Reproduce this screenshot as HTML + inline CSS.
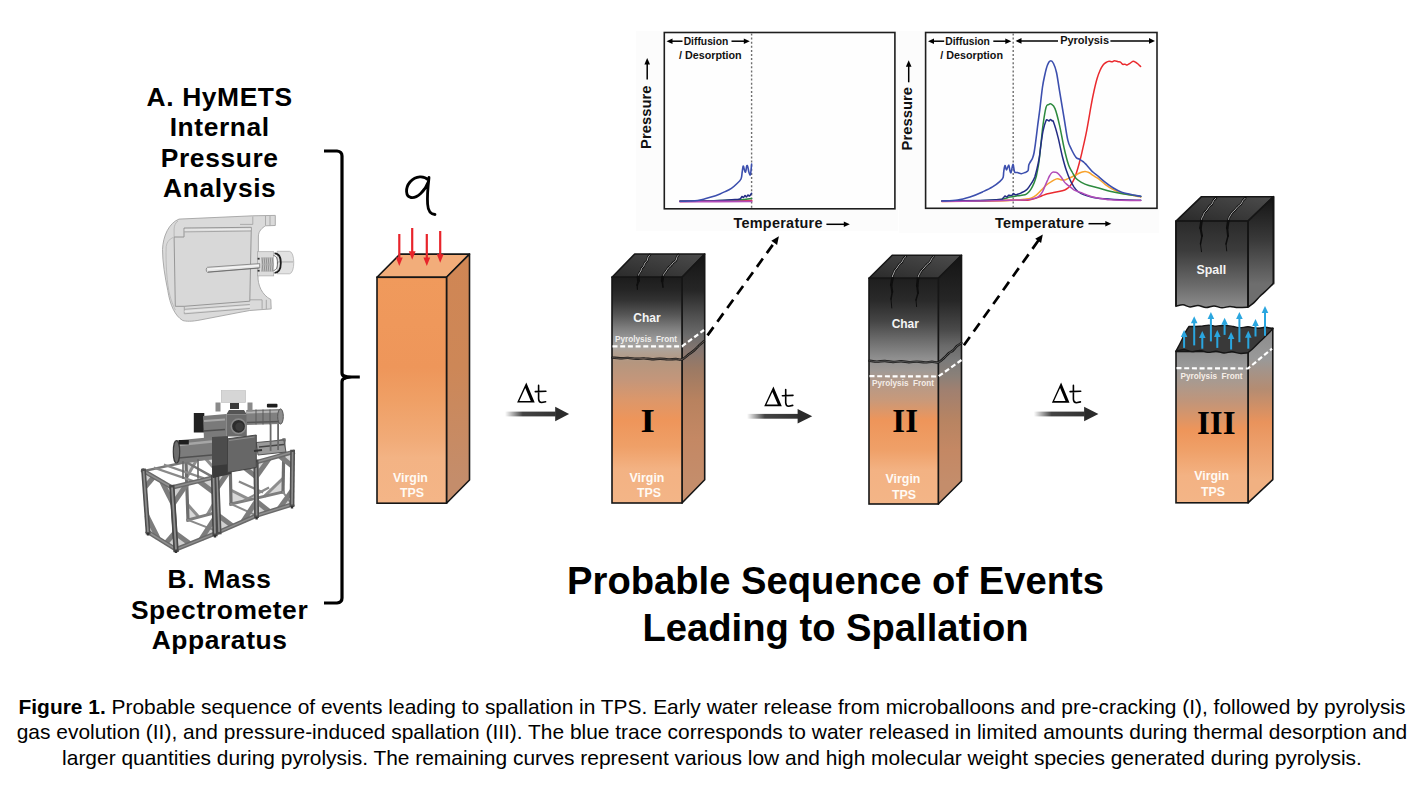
<!DOCTYPE html>
<html><head><meta charset="utf-8"><style>
html,body{margin:0;padding:0;background:#fff;}
body{width:1424px;height:799px;overflow:hidden;position:relative;font-family:"Liberation Sans",sans-serif;}
svg{position:absolute;left:0;top:0;}
.cap{position:absolute;left:0;top:694.2px;width:1424px;text-align:center;font-size:20.93px;line-height:25.3px;color:#000;}
</style></head><body>
<svg width="1424" height="799" viewBox="0 0 1424 799">

<defs>
 <linearGradient id="gV0" x1="0" y1="277" x2="0" y2="503" gradientUnits="userSpaceOnUse">
  <stop offset="0" stop-color="#f09a5c"/><stop offset="0.4" stop-color="#ee965a"/>
  <stop offset="0.55" stop-color="#efa066"/><stop offset="0.72" stop-color="#f1ab78"/>
  <stop offset="0.8" stop-color="#f3b384"/><stop offset="1" stop-color="#f4b587"/>
 </linearGradient>
 <linearGradient id="gS0" x1="0" y1="254" x2="0" y2="480" gradientUnits="userSpaceOnUse">
  <stop offset="0" stop-color="#d08654"/><stop offset="0.5" stop-color="#cd8757"/><stop offset="1" stop-color="#c48d6b"/>
 </linearGradient>
 <linearGradient id="gF1" x1="0" y1="277" x2="0" y2="503" gradientUnits="userSpaceOnUse">
  <stop offset="0" stop-color="#1c1c1c"/><stop offset="0.0575" stop-color="#252525"/>
  <stop offset="0.102" stop-color="#323232"/><stop offset="0.168" stop-color="#575757"/>
  <stop offset="0.226" stop-color="#7e7e7e"/><stop offset="0.279" stop-color="#9c9c9c"/>
  <stop offset="0.31" stop-color="#aaa6a2"/><stop offset="0.332" stop-color="#b0a194"/>
  <stop offset="0.376" stop-color="#b4967f"/><stop offset="0.456" stop-color="#c4967a"/>
  <stop offset="0.544" stop-color="#dc976a"/><stop offset="0.633" stop-color="#ee955a"/>
  <stop offset="0.752" stop-color="#efa068"/><stop offset="0.85" stop-color="#f3b283"/><stop offset="1" stop-color="#f3b587"/>
 </linearGradient>
 <linearGradient id="gSd1" x1="0" y1="254" x2="0" y2="480" gradientUnits="userSpaceOnUse">
  <stop offset="0" stop-color="#141414"/><stop offset="0.16" stop-color="#262626"/>
  <stop offset="0.27" stop-color="#4e4e4e"/><stop offset="0.36" stop-color="#6c6c6c"/>
  <stop offset="0.425" stop-color="#857670"/><stop offset="0.51" stop-color="#9c7a64"/>
  <stop offset="0.646" stop-color="#b8825f"/><stop offset="0.82" stop-color="#c48864"/><stop offset="1" stop-color="#c48d6b"/>
 </linearGradient>
 <linearGradient id="gTop" x1="0" y1="1" x2="1" y2="0">
  <stop offset="0" stop-color="#2a2a2a"/><stop offset="1" stop-color="#4c4c4c"/>
 </linearGradient>
 <linearGradient id="gF2" x1="0" y1="278" x2="0" y2="504" gradientUnits="userSpaceOnUse">
  <stop offset="0" stop-color="#1e1e1e"/><stop offset="0.1" stop-color="#2a2a2a"/>
  <stop offset="0.19" stop-color="#454545"/><stop offset="0.27" stop-color="#6a6a6a"/>
  <stop offset="0.355" stop-color="#8f8f8f"/><stop offset="0.41" stop-color="#a09a96"/>
  <stop offset="0.45" stop-color="#b09a8c"/><stop offset="0.54" stop-color="#c8997a"/>
  <stop offset="0.63" stop-color="#ee955a"/><stop offset="0.76" stop-color="#efa068"/>
  <stop offset="0.85" stop-color="#f3b283"/><stop offset="1" stop-color="#f3b587"/>
 </linearGradient>
 <linearGradient id="gSd2" x1="0" y1="255" x2="0" y2="482" gradientUnits="userSpaceOnUse">
  <stop offset="0" stop-color="#141414"/><stop offset="0.2" stop-color="#262626"/>
  <stop offset="0.33" stop-color="#4a4a4a"/><stop offset="0.4" stop-color="#6a6a6a"/>
  <stop offset="0.46" stop-color="#7a7a7a"/><stop offset="0.53" stop-color="#8a8078"/>
  <stop offset="0.595" stop-color="#a08070"/><stop offset="0.73" stop-color="#b88462"/>
  <stop offset="0.86" stop-color="#c48864"/><stop offset="1" stop-color="#c48d6b"/>
 </linearGradient>
 <linearGradient id="gSp" x1="0" y1="221" x2="0" y2="306" gradientUnits="userSpaceOnUse">
  <stop offset="0" stop-color="#2a2a2a"/><stop offset="0.35" stop-color="#3c3c3c"/>
  <stop offset="0.75" stop-color="#6a6a6a"/><stop offset="1" stop-color="#8a8a8a"/>
 </linearGradient>
 <linearGradient id="gSpS" x1="0" y1="197" x2="0" y2="284" gradientUnits="userSpaceOnUse">
  <stop offset="0" stop-color="#141414"/><stop offset="0.5" stop-color="#3a3a3a"/><stop offset="1" stop-color="#6e6e6e"/>
 </linearGradient>
 <linearGradient id="gF3" x1="0" y1="351" x2="0" y2="503" gradientUnits="userSpaceOnUse">
  <stop offset="0" stop-color="#8c8c8c"/><stop offset="0.1" stop-color="#9a9a9a"/>
  <stop offset="0.2" stop-color="#a89a90"/><stop offset="0.33" stop-color="#c0957a"/>
  <stop offset="0.52" stop-color="#ee955a"/><stop offset="0.65" stop-color="#efa068"/>
  <stop offset="0.82" stop-color="#f3b283"/><stop offset="1" stop-color="#f3b587"/>
 </linearGradient>
 <linearGradient id="gS3" x1="0" y1="328" x2="0" y2="480" gradientUnits="userSpaceOnUse">
  <stop offset="0" stop-color="#8a8a8a"/><stop offset="0.2" stop-color="#999"/>
  <stop offset="0.4" stop-color="#b48c72"/><stop offset="0.62" stop-color="#e9935c"/>
  <stop offset="1" stop-color="#f1b182"/>
 </linearGradient>
 <linearGradient id="gArr" x1="0" y1="0" x2="1" y2="0">
  <stop offset="0" stop-color="#3a3a3a" stop-opacity="0"/><stop offset="0.35" stop-color="#3a3a3a" stop-opacity="0.95"/>
  <stop offset="1" stop-color="#333"/>
 </linearGradient>
</defs>
<text x="219.7" y="105.8" font-family="'Liberation Sans', sans-serif" font-size="26.4" font-weight="bold" fill="#000" text-anchor="middle" letter-spacing="0.6">A. HyMETS</text>
<text x="219.7" y="135.9" font-family="'Liberation Sans', sans-serif" font-size="26.4" font-weight="bold" fill="#000" text-anchor="middle" letter-spacing="0.6">Internal</text>
<text x="219.7" y="166.8" font-family="'Liberation Sans', sans-serif" font-size="26.4" font-weight="bold" fill="#000" text-anchor="middle" letter-spacing="0.6">Pressure</text>
<text x="219.7" y="196.9" font-family="'Liberation Sans', sans-serif" font-size="26.4" font-weight="bold" fill="#000" text-anchor="middle" letter-spacing="0.6">Analysis</text>
<text x="219.6" y="588" font-family="'Liberation Sans', sans-serif" font-size="26.4" font-weight="bold" fill="#000" text-anchor="middle" letter-spacing="0.6">B. Mass</text>
<text x="219.6" y="618.7" font-family="'Liberation Sans', sans-serif" font-size="26.4" font-weight="bold" fill="#000" text-anchor="middle" letter-spacing="0.6">Spectrometer</text>
<text x="219.6" y="648.7" font-family="'Liberation Sans', sans-serif" font-size="26.4" font-weight="bold" fill="#000" text-anchor="middle" letter-spacing="0.6">Apparatus</text>
<path d="M324,151 L337,151 Q342,151.5 342,156 L342,373 Q342,376.2 345.5,376.8 M345.5,378 Q342,378.6 342,381.8 L342,598 Q342,602.5 337,603 L324,603" fill="none" stroke="#000" stroke-width="3.2"/>
<path d="M344,374.2 Q347,375.4 352,375.5 L359.8,375.5 L359.8,378.6 L352,378.6 Q347,378.7 344,380 Z" fill="#000"/>
<text x="835.5" y="593.6" font-family="'Liberation Sans', sans-serif" font-size="38.2" font-weight="bold" fill="#000" text-anchor="middle" >Probable Sequence of Events</text>
<text x="835.5" y="640.7" font-family="'Liberation Sans', sans-serif" font-size="38.2" font-weight="bold" fill="#000" text-anchor="middle" >Leading to Spallation</text>
<polygon points="377,277.3 446.5,277.3 469.5,254.10000000000002 400,254.10000000000002" fill="#f2ad7a" stroke="#161616" stroke-width="1.6" stroke-linejoin="round"/><polygon points="446.5,277.3 469.5,254.10000000000002 469.5,480.0 446.5,503.2" fill="url(#gS0)" stroke="#161616" stroke-width="1.6" stroke-linejoin="round"/><rect x="377" y="277.3" width="69.5" height="225.89999999999998" fill="url(#gV0)" stroke="#161616" stroke-width="1.6"/>
<text x="410.5" y="481.5" font-family="'Liberation Sans', sans-serif" font-size="12.4" font-weight="bold" fill="#fffaf4" text-anchor="middle" >Virgin</text>
<text x="412" y="497" font-family="'Liberation Sans', sans-serif" font-size="12.4" font-weight="bold" fill="#fffaf4" text-anchor="middle" >TPS</text>
<polygon points="612,277.2 682,277.2 704.7,254.0 634.7,254.0" fill="url(#gTop)" stroke="#161616" stroke-width="1.6" stroke-linejoin="round"/><polygon points="682,277.2 704.7,254.0 704.7,479.8 682,503" fill="url(#gSd1)" stroke="#161616" stroke-width="1.6" stroke-linejoin="round"/><rect x="612" y="277.2" width="70" height="225.8" fill="url(#gF1)" stroke="#161616" stroke-width="1.6"/>
<text x="647" y="321.9" font-family="'Liberation Sans', sans-serif" font-size="12" font-weight="bold" fill="#f4f4f4" text-anchor="middle" >Char</text>
<text x="646" y="341.8" font-family="'Liberation Sans', sans-serif" font-size="8.2" font-weight="bold" fill="#f0eeec" text-anchor="middle" >Pyrolysis&#160; Front</text>
<text x="647" y="481.5" font-family="'Liberation Sans', sans-serif" font-size="12.4" font-weight="bold" fill="#fffaf4" text-anchor="middle" >Virgin</text>
<text x="649" y="497" font-family="'Liberation Sans', sans-serif" font-size="12.4" font-weight="bold" fill="#fffaf4" text-anchor="middle" >TPS</text>
<text x="647.6" y="431.9" font-family="'Liberation Serif', serif" font-size="33" font-weight="bold" fill="#000" text-anchor="middle" transform="translate(647.6 0) scale(1.12 1) translate(-647.6 0)">I</text>
<polygon points="869,278.3 938.3,278.3 961.5,255.3 892.2,255.3" fill="url(#gTop)" stroke="#161616" stroke-width="1.6" stroke-linejoin="round"/><polygon points="938.3,278.3 961.5,255.3 961.5,481 938.3,504" fill="url(#gSd2)" stroke="#161616" stroke-width="1.6" stroke-linejoin="round"/><rect x="869" y="278.3" width="69.29999999999995" height="225.7" fill="url(#gF2)" stroke="#161616" stroke-width="1.6"/>
<text x="905.3" y="327.6" font-family="'Liberation Sans', sans-serif" font-size="12" font-weight="bold" fill="#f4f4f4" text-anchor="middle" >Char</text>
<text x="903" y="386.2" font-family="'Liberation Sans', sans-serif" font-size="8.2" font-weight="bold" fill="#f4ecE6" text-anchor="middle" >Pyrolysis&#160; Front</text>
<text x="903" y="483" font-family="'Liberation Sans', sans-serif" font-size="12.4" font-weight="bold" fill="#fffaf4" text-anchor="middle" >Virgin</text>
<text x="904" y="498.5" font-family="'Liberation Sans', sans-serif" font-size="12.4" font-weight="bold" fill="#fffaf4" text-anchor="middle" >TPS</text>
<text x="905.2" y="431.9" font-family="'Liberation Serif', serif" font-size="33" font-weight="bold" fill="#000" text-anchor="middle" >II</text>
<polygon points="1176,351.5 1248,351.5 1272.8,328.3 1200.8,328.3" fill="#3a3a3a" stroke="#161616" stroke-width="1.6" stroke-linejoin="round"/><polygon points="1248,351.5 1272.8,328.3 1272.8,479.6 1248,502.8" fill="url(#gS3)" stroke="#161616" stroke-width="1.6" stroke-linejoin="round"/><rect x="1176" y="351.5" width="72" height="151.3" fill="url(#gF3)" stroke="#161616" stroke-width="1.6"/>
<text x="1211.5" y="379.3" font-family="'Liberation Sans', sans-serif" font-size="8.2" font-weight="bold" fill="#f6eee8" text-anchor="middle" >Pyrolysis&#160; Front</text>
<text x="1211.7" y="479.6" font-family="'Liberation Sans', sans-serif" font-size="12.4" font-weight="bold" fill="#fffaf4" text-anchor="middle" >Virgin</text>
<text x="1213" y="496.3" font-family="'Liberation Sans', sans-serif" font-size="12.4" font-weight="bold" fill="#fffaf4" text-anchor="middle" >TPS</text>
<text x="1216.3" y="433.7" font-family="'Liberation Serif', serif" font-size="33" font-weight="bold" fill="#000" text-anchor="middle" >III</text>
<polygon points="1176,221.1 1248,221.1 1273.5,196.7 1201.5,196.7" fill="url(#gTop)" stroke="#161616" stroke-width="1.6" stroke-linejoin="round"/><polygon points="1248,221.1 1273.5,196.7 1273.5,284.1 1248,308.5" fill="url(#gSpS)" stroke="#161616" stroke-width="1.6" stroke-linejoin="round"/><rect x="1176" y="221.1" width="72" height="87.4" fill="url(#gSp)" stroke="#161616" stroke-width="1.6"/>
<text x="1211.3" y="273.7" font-family="'Liberation Sans', sans-serif" font-size="12.4" font-weight="bold" fill="#f4f4f4" text-anchor="middle" >Spall</text>
<path d="M612.5,346.3 L682,346.3 L704,330" fill="none" stroke="#fff" stroke-width="2.2" stroke-dasharray="5 2.7"/>
<path d="M612.5,357.6 C613.8,357.7 617.4,358.2 620.0,358.3 C622.6,358.4 625.3,357.8 628.0,357.9 C630.7,358.0 633.3,358.7 636.0,358.8 C638.7,358.9 641.3,358.3 644.0,358.4 C646.7,358.5 649.3,359.1 652.0,359.2 C654.7,359.2 657.3,358.7 660.0,358.7 C662.7,358.7 665.3,359.3 668.0,359.4 C670.7,359.4 673.7,359.0 676.0,359.0 C678.3,359.0 680.0,360.1 682.0,359.4 C684.0,358.7 686.0,356.5 688.0,355.0 C690.0,353.5 692.2,352.1 694.0,350.5 C695.8,348.9 697.3,347.1 699.0,345.5 C700.7,343.9 703.2,341.9 704.0,341.2" fill="none" stroke="#1a1a1a" stroke-width="2.4" stroke-linejoin="round" stroke-linecap="round"/><path d="M612.5,357.6 C613.8,357.7 617.4,358.2 620.0,358.3 C622.6,358.4 625.3,357.8 628.0,357.9 C630.7,358.0 633.3,358.7 636.0,358.8 C638.7,358.9 641.3,358.3 644.0,358.4 C646.7,358.5 649.3,359.1 652.0,359.2 C654.7,359.2 657.3,358.7 660.0,358.7 C662.7,358.7 665.3,359.3 668.0,359.4 C670.7,359.4 673.7,359.0 676.0,359.0 C678.3,359.0 680.0,360.1 682.0,359.4 C684.0,358.7 686.0,356.5 688.0,355.0 C690.0,353.5 692.2,352.1 694.0,350.5 C695.8,348.9 697.3,347.1 699.0,345.5 C700.7,343.9 703.2,341.9 704.0,341.2" fill="none" stroke="#7a6a60" stroke-width="0.72" stroke-linejoin="round"/>
<path d="M650.0,254.8 C649.7,255.2 648.5,256.4 648.0,257.4 C647.6,258.3 647.7,259.6 647.2,260.5 C646.7,261.4 645.5,262.1 644.9,263.0 C644.3,264.0 644.2,265.3 643.7,266.2 C643.2,267.1 642.2,267.5 641.7,268.3 C641.2,269.1 641.4,270.1 640.9,271.0 C640.4,271.9 639.4,272.8 639.0,273.8 C638.5,274.8 638.2,276.5 638.1,277.0" fill="none" stroke="#0e0e0e" stroke-width="2.3" stroke-linejoin="round" stroke-linecap="round"/><path d="M650.0,254.8 C649.7,255.2 648.5,256.4 648.0,257.4 C647.6,258.3 647.7,259.6 647.2,260.5 C646.7,261.4 645.5,262.1 644.9,263.0 C644.3,264.0 644.2,265.3 643.7,266.2 C643.2,267.1 642.2,267.5 641.7,268.3 C641.2,269.1 641.4,270.1 640.9,271.0 C640.4,271.9 639.4,272.8 639.0,273.8 C638.5,274.8 638.2,276.5 638.1,277.0" fill="none" stroke="#d4d4d4" stroke-width="0.8" stroke-linejoin="round"/>
<line x1="638.1" y1="277.0" x2="638.5" y2="281.0" stroke="#0e0e0e" stroke-width="2.80" stroke-linecap="round"/><line x1="638.5" y1="281.0" x2="637.2" y2="285.0" stroke="#0e0e0e" stroke-width="2.00" stroke-linecap="round"/><line x1="637.2" y1="285.0" x2="637.4" y2="289.3" stroke="#0e0e0e" stroke-width="1.20" stroke-linecap="round"/>
<path d="M678.5,254.8 C678.2,255.2 677.3,256.5 676.8,257.5 C676.4,258.4 676.6,259.6 676.0,260.5 C675.4,261.4 674.0,261.8 673.2,262.6 C672.4,263.4 671.9,264.5 671.1,265.4 C670.3,266.3 669.1,266.9 668.3,267.9 C667.5,268.8 666.9,270.0 666.2,271.0 C665.5,272.0 664.7,272.8 664.1,273.8 C663.5,274.8 662.9,276.5 662.7,277.0" fill="none" stroke="#0e0e0e" stroke-width="2.3" stroke-linejoin="round" stroke-linecap="round"/><path d="M678.5,254.8 C678.2,255.2 677.3,256.5 676.8,257.5 C676.4,258.4 676.6,259.6 676.0,260.5 C675.4,261.4 674.0,261.8 673.2,262.6 C672.4,263.4 671.9,264.5 671.1,265.4 C670.3,266.3 669.1,266.9 668.3,267.9 C667.5,268.8 666.9,270.0 666.2,271.0 C665.5,272.0 664.7,272.8 664.1,273.8 C663.5,274.8 662.9,276.5 662.7,277.0" fill="none" stroke="#d4d4d4" stroke-width="0.8" stroke-linejoin="round"/>
<line x1="662.7" y1="277.0" x2="662.2" y2="281.0" stroke="#0e0e0e" stroke-width="2.80" stroke-linecap="round"/><line x1="662.2" y1="281.0" x2="663.0" y2="287.2" stroke="#0e0e0e" stroke-width="1.60" stroke-linecap="round"/>
<path d="M869.5,376.2 L938.3,376.5 L961.5,360" fill="none" stroke="#fff" stroke-width="2.2" stroke-dasharray="5 2.7"/>
<path d="M869.5,360.8 C870.8,360.9 874.4,361.6 877.0,361.6 C879.6,361.6 882.3,360.9 885.0,361.0 C887.7,361.1 890.3,361.9 893.0,362.0 C895.7,362.1 898.3,361.3 901.0,361.3 C903.7,361.3 906.3,362.1 909.0,362.2 C911.7,362.2 914.3,361.6 917.0,361.6 C919.7,361.6 922.5,362.4 925.0,362.4 C927.5,362.4 929.8,361.8 932.0,361.8 C934.2,361.8 936.3,363.0 938.3,362.4 C940.3,361.8 942.2,359.6 944.0,358.0 C945.8,356.4 947.5,354.2 949.0,353.0 C950.5,351.8 951.7,351.7 953.0,350.5 C954.3,349.3 955.6,347.2 957.0,346.0 C958.4,344.8 960.8,343.5 961.5,343.0" fill="none" stroke="#1a1a1a" stroke-width="2.4" stroke-linejoin="round" stroke-linecap="round"/><path d="M869.5,360.8 C870.8,360.9 874.4,361.6 877.0,361.6 C879.6,361.6 882.3,360.9 885.0,361.0 C887.7,361.1 890.3,361.9 893.0,362.0 C895.7,362.1 898.3,361.3 901.0,361.3 C903.7,361.3 906.3,362.1 909.0,362.2 C911.7,362.2 914.3,361.6 917.0,361.6 C919.7,361.6 922.5,362.4 925.0,362.4 C927.5,362.4 929.8,361.8 932.0,361.8 C934.2,361.8 936.3,363.0 938.3,362.4 C940.3,361.8 942.2,359.6 944.0,358.0 C945.8,356.4 947.5,354.2 949.0,353.0 C950.5,351.8 951.7,351.7 953.0,350.5 C954.3,349.3 955.6,347.2 957.0,346.0 C958.4,344.8 960.8,343.5 961.5,343.0" fill="none" stroke="#6a6a6a" stroke-width="0.72" stroke-linejoin="round"/>
<path d="M906.0,256.3 C905.6,256.7 904.1,257.8 903.5,258.8 C902.8,259.7 902.7,261.0 902.0,262.0 C901.3,263.0 899.8,263.6 899.0,264.6 C898.2,265.6 897.7,267.0 897.0,268.0 C896.3,269.0 895.2,269.7 894.7,270.7 C894.1,271.7 893.9,273.1 893.5,274.0 C893.1,274.9 892.6,275.3 892.4,276.0 C892.3,276.7 892.5,277.9 892.5,278.3" fill="none" stroke="#0e0e0e" stroke-width="2.3" stroke-linejoin="round" stroke-linecap="round"/><path d="M906.0,256.3 C905.6,256.7 904.1,257.8 903.5,258.8 C902.8,259.7 902.7,261.0 902.0,262.0 C901.3,263.0 899.8,263.6 899.0,264.6 C898.2,265.6 897.7,267.0 897.0,268.0 C896.3,269.0 895.2,269.7 894.7,270.7 C894.1,271.7 893.9,273.1 893.5,274.0 C893.1,274.9 892.6,275.3 892.4,276.0 C892.3,276.7 892.5,277.9 892.5,278.3" fill="none" stroke="#d4d4d4" stroke-width="0.8" stroke-linejoin="round"/>
<line x1="892.5" y1="278.3" x2="891.2" y2="285.0" stroke="#0e0e0e" stroke-width="2.60" stroke-linecap="round"/><line x1="891.2" y1="285.0" x2="892.3" y2="292.0" stroke="#0e0e0e" stroke-width="2.05" stroke-linecap="round"/><line x1="892.3" y1="292.0" x2="891.0" y2="299.0" stroke="#0e0e0e" stroke-width="1.50" stroke-linecap="round"/><line x1="891.0" y1="299.0" x2="891.8" y2="308.0" stroke="#0e0e0e" stroke-width="0.95" stroke-linecap="round"/>
<path d="M933.8,256.3 C933.4,256.7 932.2,257.9 931.5,258.9 C930.9,259.8 930.8,261.0 930.0,262.0 C929.2,263.0 927.7,263.7 926.7,264.7 C925.7,265.7 924.9,267.0 924.0,268.0 C923.1,269.0 922.1,269.7 921.4,270.7 C920.6,271.7 920.0,273.1 919.5,274.0 C919.0,274.9 918.6,275.3 918.4,276.0 C918.1,276.7 918.1,277.9 918.0,278.3" fill="none" stroke="#0e0e0e" stroke-width="2.3" stroke-linejoin="round" stroke-linecap="round"/><path d="M933.8,256.3 C933.4,256.7 932.2,257.9 931.5,258.9 C930.9,259.8 930.8,261.0 930.0,262.0 C929.2,263.0 927.7,263.7 926.7,264.7 C925.7,265.7 924.9,267.0 924.0,268.0 C923.1,269.0 922.1,269.7 921.4,270.7 C920.6,271.7 920.0,273.1 919.5,274.0 C919.0,274.9 918.6,275.3 918.4,276.0 C918.1,276.7 918.1,277.9 918.0,278.3" fill="none" stroke="#d4d4d4" stroke-width="0.8" stroke-linejoin="round"/>
<line x1="918.0" y1="278.3" x2="917.2" y2="286.0" stroke="#0e0e0e" stroke-width="2.60" stroke-linecap="round"/><line x1="917.2" y1="286.0" x2="918.0" y2="293.0" stroke="#0e0e0e" stroke-width="2.05" stroke-linecap="round"/><line x1="918.0" y1="293.0" x2="916.0" y2="300.0" stroke="#0e0e0e" stroke-width="1.50" stroke-linecap="round"/><line x1="916.0" y1="300.0" x2="916.6" y2="306.6" stroke="#0e0e0e" stroke-width="0.95" stroke-linecap="round"/>
<path d="M1176.0,351.1 C1177.3,350.9 1181.3,349.5 1184.0,349.6 C1186.7,349.7 1189.3,351.5 1192.0,351.6 C1194.7,351.7 1197.3,350.3 1200.0,350.4 C1202.7,350.5 1205.3,352.2 1208.0,352.4 C1210.7,352.5 1213.3,351.2 1216.0,351.3 C1218.7,351.4 1221.3,352.9 1224.0,353.0 C1226.7,353.1 1229.3,351.7 1232.0,351.8 C1234.7,351.9 1237.3,353.2 1240.0,353.4 C1242.7,353.6 1246.7,352.9 1248.0,352.8 C1249.0,351.9 1252.0,349.4 1254.0,347.5 C1256.0,345.6 1258.0,343.4 1260.0,341.5 C1262.0,339.6 1263.9,337.9 1266.0,335.8 C1268.1,333.7 1271.7,330.0 1272.8,328.8 C1271.5,328.6 1267.5,327.4 1265.0,327.3 C1262.5,327.2 1260.4,328.5 1257.6,328.4 C1254.8,328.3 1250.9,326.9 1248.0,326.8 C1245.1,326.7 1242.5,327.9 1240.0,327.8 C1237.5,327.8 1235.7,326.9 1233.2,326.5 C1230.7,326.1 1227.9,325.4 1225.0,325.4 C1222.1,325.3 1218.7,326.2 1216.0,326.2 C1213.3,326.1 1211.5,325.1 1208.8,325.1 C1206.1,325.1 1203.3,326.1 1200.0,326.3 C1196.7,326.5 1190.8,326.5 1189.0,326.5 C1188.4,327.4 1186.6,330.0 1185.5,332.0 C1184.4,334.0 1183.5,336.4 1182.5,338.5 C1181.5,340.6 1180.6,342.4 1179.5,344.5 C1178.4,346.6 1176.6,350.0 1176.0,351.1 Z" fill="#393939" stroke="#151515" stroke-width="1.4" stroke-linejoin="round"/>
<path d="M1176.5,368.2 L1248,368.5 L1272,348.7" fill="none" stroke="#fff" stroke-width="2.2" stroke-dasharray="5 2.7"/>
<path d="M1174,308.5 L1176,306.2 C1177.2,306.0 1180.7,304.7 1183.0,304.8 C1185.3,304.9 1187.5,306.8 1190.0,306.9 C1192.5,307.0 1195.3,305.3 1198.0,305.4 C1200.7,305.5 1203.3,307.5 1206.0,307.6 C1208.7,307.7 1211.3,305.9 1214.0,305.9 C1216.7,305.9 1219.3,307.7 1222.0,307.8 C1224.7,307.9 1227.3,306.4 1230.0,306.4 C1232.7,306.4 1235.0,307.5 1238.0,307.6 C1241.0,307.7 1246.3,307.3 1248.0,307.2 C1249.0,306.4 1252.0,304.4 1254.0,302.6 C1256.0,300.8 1258.0,298.2 1260.0,296.2 C1262.0,294.2 1263.8,292.9 1266.0,290.8 C1268.2,288.7 1272.2,284.6 1273.5,283.4 L1275.5,286 L1275.5,312 L1174,312 Z" fill="#fff"/>
<path d="M1176.0,306.2 C1177.2,306.0 1180.7,304.7 1183.0,304.8 C1185.3,304.9 1187.5,306.8 1190.0,306.9 C1192.5,307.0 1195.3,305.3 1198.0,305.4 C1200.7,305.5 1203.3,307.5 1206.0,307.6 C1208.7,307.7 1211.3,305.9 1214.0,305.9 C1216.7,305.9 1219.3,307.7 1222.0,307.8 C1224.7,307.9 1227.3,306.4 1230.0,306.4 C1232.7,306.4 1235.0,307.5 1238.0,307.6 C1241.0,307.7 1246.3,307.3 1248.0,307.2 C1249.0,306.4 1252.0,304.4 1254.0,302.6 C1256.0,300.8 1258.0,298.2 1260.0,296.2 C1262.0,294.2 1263.8,292.9 1266.0,290.8 C1268.2,288.7 1272.2,284.6 1273.5,283.4" fill="none" stroke="#151515" stroke-width="1.5" stroke-linejoin="round"/>
<line x1="1176" y1="221.1" x2="1176" y2="306.4" stroke="#151515" stroke-width="1.6"/>
<line x1="1248" y1="221.1" x2="1248" y2="307.2" stroke="#151515" stroke-width="1.6"/>
<line x1="1273.5" y1="196.7" x2="1273.5" y2="283.6" stroke="#151515" stroke-width="1.6"/>
<path d="M1216.1,198.0 C1215.7,198.4 1214.2,199.6 1213.5,200.6 C1212.8,201.6 1212.8,203.0 1212.0,204.0 C1211.2,205.0 1209.8,205.6 1209.0,206.6 C1208.2,207.6 1207.8,209.0 1207.0,210.0 C1206.2,211.0 1205.1,211.6 1204.4,212.6 C1203.8,213.6 1203.5,215.0 1203.0,216.0 C1202.5,217.0 1202.0,217.5 1201.7,218.3 C1201.5,219.2 1201.5,220.6 1201.5,221.0" fill="none" stroke="#0e0e0e" stroke-width="2.3" stroke-linejoin="round" stroke-linecap="round"/><path d="M1216.1,198.0 C1215.7,198.4 1214.2,199.6 1213.5,200.6 C1212.8,201.6 1212.8,203.0 1212.0,204.0 C1211.2,205.0 1209.8,205.6 1209.0,206.6 C1208.2,207.6 1207.8,209.0 1207.0,210.0 C1206.2,211.0 1205.1,211.6 1204.4,212.6 C1203.8,213.6 1203.5,215.0 1203.0,216.0 C1202.5,217.0 1202.0,217.5 1201.7,218.3 C1201.5,219.2 1201.5,220.6 1201.5,221.0" fill="none" stroke="#d4d4d4" stroke-width="0.8" stroke-linejoin="round"/>
<line x1="1201.5" y1="221.0" x2="1200.5" y2="228.0" stroke="#0e0e0e" stroke-width="2.60" stroke-linecap="round"/><line x1="1200.5" y1="228.0" x2="1202.0" y2="236.0" stroke="#0e0e0e" stroke-width="2.05" stroke-linecap="round"/><line x1="1202.0" y1="236.0" x2="1200.5" y2="244.0" stroke="#0e0e0e" stroke-width="1.50" stroke-linecap="round"/><line x1="1200.5" y1="244.0" x2="1201.5" y2="251.7" stroke="#0e0e0e" stroke-width="0.95" stroke-linecap="round"/>
<path d="M1245.4,198.0 C1245.0,198.5 1243.6,199.7 1242.8,200.7 C1242.1,201.7 1241.9,203.0 1241.0,204.0 C1240.1,205.0 1238.7,205.7 1237.7,206.7 C1236.7,207.7 1235.9,209.0 1235.0,210.0 C1234.1,211.0 1233.0,211.7 1232.1,212.7 C1231.3,213.7 1230.6,215.1 1230.0,216.0 C1229.4,216.9 1229.0,217.5 1228.8,218.4 C1228.5,219.2 1228.4,220.6 1228.3,221.0" fill="none" stroke="#0e0e0e" stroke-width="2.3" stroke-linejoin="round" stroke-linecap="round"/><path d="M1245.4,198.0 C1245.0,198.5 1243.6,199.7 1242.8,200.7 C1242.1,201.7 1241.9,203.0 1241.0,204.0 C1240.1,205.0 1238.7,205.7 1237.7,206.7 C1236.7,207.7 1235.9,209.0 1235.0,210.0 C1234.1,211.0 1233.0,211.7 1232.1,212.7 C1231.3,213.7 1230.6,215.1 1230.0,216.0 C1229.4,216.9 1229.0,217.5 1228.8,218.4 C1228.5,219.2 1228.4,220.6 1228.3,221.0" fill="none" stroke="#d4d4d4" stroke-width="0.8" stroke-linejoin="round"/>
<line x1="1228.3" y1="221.0" x2="1227.2" y2="228.0" stroke="#0e0e0e" stroke-width="2.60" stroke-linecap="round"/><line x1="1227.2" y1="228.0" x2="1228.0" y2="236.0" stroke="#0e0e0e" stroke-width="2.05" stroke-linecap="round"/><line x1="1228.0" y1="236.0" x2="1226.0" y2="244.0" stroke="#0e0e0e" stroke-width="1.50" stroke-linecap="round"/><line x1="1226.0" y1="244.0" x2="1226.7" y2="250.9" stroke="#0e0e0e" stroke-width="0.95" stroke-linecap="round"/>
<line x1="1184.1" y1="347.9" x2="1184.1" y2="336" stroke="#2aa6df" stroke-width="2.0"/><polygon points="1180.8,337 1184.1,330 1187.3999999999999,337" fill="#2aa6df"/>
<line x1="1194.2" y1="345.4" x2="1194.2" y2="322.2" stroke="#2aa6df" stroke-width="2.0"/><polygon points="1190.9,323.2 1194.2,316.2 1197.5,323.2" fill="#2aa6df"/>
<line x1="1202.3" y1="348.7" x2="1202.3" y2="337.1" stroke="#2aa6df" stroke-width="2.0"/><polygon points="1199.0,338.1 1202.3,331.1 1205.6,338.1" fill="#2aa6df"/>
<line x1="1210.9" y1="341.4" x2="1210.9" y2="318.1" stroke="#2aa6df" stroke-width="2.0"/><polygon points="1207.6000000000001,319.1 1210.9,312.1 1214.2,319.1" fill="#2aa6df"/>
<line x1="1217.3" y1="347.9" x2="1217.3" y2="336" stroke="#2aa6df" stroke-width="2.0"/><polygon points="1214.0,337 1217.3,330 1220.6,337" fill="#2aa6df"/>
<line x1="1224.6" y1="334.9" x2="1224.6" y2="323.8" stroke="#2aa6df" stroke-width="2.0"/><polygon points="1221.3,324.8 1224.6,317.8 1227.8999999999999,324.8" fill="#2aa6df"/>
<line x1="1231.1" y1="349.5" x2="1231.1" y2="338.1" stroke="#2aa6df" stroke-width="2.0"/><polygon points="1227.8,339.1 1231.1,332.1 1234.3999999999999,339.1" fill="#2aa6df"/>
<line x1="1239.4" y1="342.2" x2="1239.4" y2="318.1" stroke="#2aa6df" stroke-width="2.0"/><polygon points="1236.1000000000001,319.1 1239.4,312.1 1242.7,319.1" fill="#2aa6df"/>
<line x1="1248.3" y1="348.7" x2="1248.3" y2="336.8" stroke="#2aa6df" stroke-width="2.0"/><polygon points="1245.0,337.8 1248.3,330.8 1251.6,337.8" fill="#2aa6df"/>
<line x1="1255.5" y1="336.5" x2="1255.5" y2="325.1" stroke="#2aa6df" stroke-width="2.0"/><polygon points="1252.2,326.1 1255.5,319.1 1258.8,326.1" fill="#2aa6df"/>
<line x1="1265" y1="335.7" x2="1265" y2="312.1" stroke="#2aa6df" stroke-width="2.0"/><polygon points="1261.7,313.1 1265,306.1 1268.3,313.1" fill="#2aa6df"/>
<line x1="399.3" y1="234" x2="399.3" y2="258.4" stroke="#e8242b" stroke-width="2.2"/><polygon points="395.90000000000003,257.4 399.3,265.9 402.7,257.4" fill="#e8242b"/>
<line x1="412.2" y1="228" x2="412.2" y2="252.3" stroke="#e8242b" stroke-width="2.2"/><polygon points="408.8,251.3 412.2,259.8 415.59999999999997,251.3" fill="#e8242b"/>
<line x1="426.8" y1="234" x2="426.8" y2="258.4" stroke="#e8242b" stroke-width="2.2"/><polygon points="423.40000000000003,257.4 426.8,265.9 430.2,257.4" fill="#e8242b"/>
<line x1="440.2" y1="231" x2="440.2" y2="255.3" stroke="#e8242b" stroke-width="2.2"/><polygon points="436.8,254.3 440.2,262.8 443.59999999999997,254.3" fill="#e8242b"/>
<path d="M428.5,180 C424,175.5 416,175.5 410,182 C405,188 405.5,196.5 411,197.5 C417,198.5 425,191 428.5,181.5 M429,177.5 C428,186 427,196 427.6,204 C428,211 430.5,214.2 435,214.5" fill="none" stroke="#000" stroke-width="2.8" stroke-linecap="round" stroke-linejoin="round"/>
<path d="M526.30,382.4 L534.70,402.5 L517.10,402.5 Z M525.29,387.88 L519.33,400.90 L530.73,400.90 Z" fill="#000" fill-rule="evenodd"/><path d="M538.6,385.4 L538.6,399.0 Q538.8,402.5 541.6,402.5 L545.6,401.7 M535.3,391.59999999999997 L545.9,391.2" fill="none" stroke="#000" stroke-width="1.6" stroke-linecap="round"/><rect x="505" y="411.6" width="50.700000000000045" height="4.8" fill="url(#gArr)"/><polygon points="555.2,406.8 569.1,414 555.2,421.2" fill="#2b2b2b"/>
<path d="M773.40,386.6 L781.80,406.2 L764.20,406.2 Z M772.39,391.95 L766.45,404.60 L777.81,404.60 Z" fill="#000" fill-rule="evenodd"/><path d="M785.7,389.6 L785.7,402.7 Q785.9,406.2 788.7,406.2 L792.7,405.4 M782.4,395.8 L793.0,395.40000000000003" fill="none" stroke="#000" stroke-width="1.6" stroke-linecap="round"/><rect x="747" y="413.90000000000003" width="51.10000000000002" height="4.8" fill="url(#gArr)"/><polygon points="797.6,409.1 812.2,416.3 797.6,423.5" fill="#2b2b2b"/>
<path d="M1061.10,382.4 L1069.50,402.7 L1051.90,402.7 Z M1060.09,387.94 L1054.13,401.10 L1065.54,401.10 Z" fill="#000" fill-rule="evenodd"/><path d="M1073.4,385.4 L1073.4,399.2 Q1073.6,402.7 1076.4,402.7 L1080.4,401.9 M1070.1,391.59999999999997 L1080.7,391.2" fill="none" stroke="#000" stroke-width="1.6" stroke-linecap="round"/><rect x="1033.8" y="411.6" width="50.799999999999955" height="4.8" fill="url(#gArr)"/><polygon points="1084.1,406.8 1098.4,414 1084.1,421.2" fill="#2b2b2b"/>
<line x1="707.5" y1="335.4" x2="774.8" y2="242.0" stroke="#000" stroke-width="2.7" stroke-dasharray="10.2 6.7"/><polygon points="777.1,244.9 778.9,236.3 771.3,240.7" fill="#000"/>
<line x1="963.9" y1="345.3" x2="1038.7" y2="240.1" stroke="#000" stroke-width="2.7" stroke-dasharray="10.2 6.7"/><polygon points="1041.1,243.0 1042.8,234.4 1035.2,238.8" fill="#000"/>
<rect x="636" y="31" width="262" height="200" fill="#fcfcfc"/>
<rect x="899" y="31" width="260" height="202" fill="#fcfcfc"/>
<rect x="664.3" y="32.5" width="230.6" height="176.3" fill="#fefefe" stroke="#1e1e1e" stroke-width="1.6"/>
<line x1="751.6" y1="33.5" x2="751.6" y2="208" stroke="#6e6e6e" stroke-width="1.4" stroke-dasharray="2 2.1"/>
<text x="706" y="44.8" font-family="'Liberation Sans', sans-serif" font-size="10.3" font-weight="bold" fill="#111" text-anchor="middle" >Diffusion</text>
<text x="710.3" y="58.5" font-family="'Liberation Sans', sans-serif" font-size="10.75" font-weight="bold" fill="#111" text-anchor="middle" >/ Desorption</text>
<line x1="671.5" y1="41.2" x2="682.5" y2="41.2" stroke="#000" stroke-width="1.5"/><polygon points="672.5,38.400000000000006 666.5,41.2 672.5,44.0" fill="#000"/>
<line x1="731.5" y1="41.2" x2="744.8" y2="41.2" stroke="#000" stroke-width="1.5"/><polygon points="743.8,38.400000000000006 749.8,41.2 743.8,44.0" fill="#000"/>
<text x="651.3" y="117.25" font-family="'Liberation Sans', sans-serif" font-size="14.8" font-weight="bold" fill="#111" text-anchor="middle" transform="rotate(-90 651.3 117.25)">Pressure</text>
<line x1="647.2" y1="79.5" x2="647.2" y2="63.5" stroke="#000" stroke-width="1.5"/><polygon points="644.4000000000001,64.5 647.2,58 650.0,64.5" fill="#000"/>
<text x="778.1" y="227.5" font-family="'Liberation Sans', sans-serif" font-size="14.4" font-weight="bold" fill="#111" text-anchor="middle" letter-spacing="0.3">Temperature</text>
<line x1="826.4" y1="224.3" x2="844.8" y2="224.3" stroke="#000" stroke-width="1.5"/><polygon points="843.8,221.5 849.8,224.3 843.8,227.10000000000002" fill="#000"/>
<rect x="925.6" y="32.5" width="231.4" height="175.8" fill="#fefefe" stroke="#1e1e1e" stroke-width="1.6"/>
<line x1="1013.2" y1="33.5" x2="1013.2" y2="207.5" stroke="#6e6e6e" stroke-width="1.4" stroke-dasharray="2 2.1"/>
<text x="967.6" y="44.8" font-family="'Liberation Sans', sans-serif" font-size="10.3" font-weight="bold" fill="#111" text-anchor="middle" >Diffusion</text>
<text x="971.6" y="58.5" font-family="'Liberation Sans', sans-serif" font-size="10.75" font-weight="bold" fill="#111" text-anchor="middle" >/ Desorption</text>
<line x1="933" y1="41.2" x2="944.2" y2="41.2" stroke="#000" stroke-width="1.5"/><polygon points="934,38.400000000000006 928,41.2 934,44.0" fill="#000"/>
<line x1="993.3" y1="41.2" x2="1006.3" y2="41.2" stroke="#000" stroke-width="1.5"/><polygon points="1005.3,38.400000000000006 1011.3,41.2 1005.3,44.0" fill="#000"/>
<line x1="1020.5" y1="40.9" x2="1058" y2="40.9" stroke="#000" stroke-width="1.5"/><polygon points="1021.5,38.1 1015.5,40.9 1021.5,43.699999999999996" fill="#000"/>
<text x="1084.6" y="44.2" font-family="'Liberation Sans', sans-serif" font-size="11" font-weight="bold" fill="#111" text-anchor="middle" >Pyrolysis</text>
<line x1="1110.4" y1="40.9" x2="1150" y2="40.9" stroke="#000" stroke-width="1.5"/><polygon points="1149,38.1 1155,40.9 1149,43.699999999999996" fill="#000"/>
<text x="912.4" y="118.75" font-family="'Liberation Sans', sans-serif" font-size="14.8" font-weight="bold" fill="#111" text-anchor="middle" transform="rotate(-90 912.4 118.75)">Pressure</text>
<line x1="908.7" y1="82.3" x2="908.7" y2="65.8" stroke="#000" stroke-width="1.5"/><polygon points="905.9000000000001,66.8 908.7,60.3 911.5,66.8" fill="#000"/>
<text x="1039.7" y="227.5" font-family="'Liberation Sans', sans-serif" font-size="14.4" font-weight="bold" fill="#111" text-anchor="middle" letter-spacing="0.3">Temperature</text>
<line x1="1088.5" y1="223.7" x2="1106.3" y2="223.7" stroke="#000" stroke-width="1.5"/><polygon points="1105.3,220.89999999999998 1111.3,223.7 1105.3,226.5" fill="#000"/>
<path d="M680.0,201.3 C691.9,201.2 739.7,200.7 751.6,200.6" fill="none" stroke="#ea2a2e" stroke-width="1.8" stroke-linejoin="round" stroke-linecap="round"/>
<path d="M680.0,201.2 C683.3,201.2 693.3,201.3 700.0,201.2 C706.7,201.1 713.3,200.8 720.0,200.6 C726.7,200.4 734.7,200.2 740.0,199.8 C745.3,199.5 749.7,198.7 751.6,198.5" fill="none" stroke="#2d8a3e" stroke-width="1.5" stroke-linejoin="round" stroke-linecap="round"/>
<path d="M680.0,201.2 C683.3,201.2 693.3,201.2 700.0,201.1 C706.7,201.0 714.2,200.7 720.0,200.4 C725.8,200.1 731.7,199.7 735.0,199.5 C738.3,199.3 738.8,199.5 740.0,199.0 C741.2,198.5 741.4,196.8 742.0,196.5 C742.6,196.2 743.0,197.7 743.5,197.5 C744.0,197.3 744.5,195.6 745.0,195.5 C745.5,195.4 746.0,197.1 746.5,197.0 C747.0,196.9 747.5,195.2 748.0,195.0 C748.5,194.8 748.9,196.3 749.5,196.0 C750.1,195.7 751.2,193.8 751.6,193.3" fill="none" stroke="#232c84" stroke-width="1.5" stroke-linejoin="round" stroke-linecap="round"/>
<path d="M680.0,201.6 C691.9,201.6 739.7,201.4 751.6,201.4" fill="none" stroke="#b24cb8" stroke-width="1.8" stroke-linejoin="round" stroke-linecap="round"/>
<path d="M680.0,201.2 C681.7,201.2 687.1,201.1 690.0,201.0 C692.9,200.9 695.1,200.9 697.6,200.5 C700.1,200.1 702.6,199.4 705.0,198.8 C707.4,198.2 709.5,197.6 712.0,196.8 C714.5,196.0 717.7,194.8 720.0,193.9 C722.3,193.0 724.1,192.1 726.0,191.2 C727.9,190.3 729.7,189.4 731.4,188.3 C733.1,187.2 734.4,186.1 736.0,184.5 C737.6,182.9 740.0,181.1 741.0,179.0 C742.0,176.9 741.8,174.2 742.2,172.0 C742.6,169.8 742.8,166.2 743.2,166.0 C743.6,165.8 744.2,169.5 744.6,170.5 C745.0,171.5 745.2,172.8 745.6,172.0 C746.0,171.2 746.4,166.9 746.7,166.0 C747.1,165.1 747.3,165.4 747.7,166.5 C748.1,167.6 748.5,171.2 749.0,172.5 C749.5,173.8 750.1,175.9 750.5,174.5 C750.9,173.1 751.4,165.8 751.6,164.0" fill="none" stroke="#3c4fae" stroke-width="1.6" stroke-linejoin="round" stroke-linecap="round"/>
<path d="M941.9,201.4 C948.2,201.3 968.6,201.2 980.0,201.0 C991.4,200.8 1002.5,200.4 1010.0,200.3 C1017.5,200.2 1021.5,200.4 1025.0,200.3 C1028.5,200.2 1029.1,199.9 1031.0,199.5 C1032.9,199.1 1034.5,198.7 1036.3,198.1 C1038.1,197.5 1040.1,196.5 1042.0,195.8 C1043.9,195.1 1045.7,194.3 1047.6,193.8 C1049.5,193.3 1051.7,193.0 1053.6,192.6 C1055.5,192.2 1056.9,191.9 1058.8,191.5 C1060.7,191.1 1063.3,190.5 1064.8,190.0 C1066.2,189.5 1066.6,189.1 1067.5,188.3 C1068.4,187.6 1069.5,186.6 1070.4,185.5 C1071.3,184.4 1072.0,183.0 1072.8,181.6 C1073.6,180.2 1074.3,178.8 1075.0,177.0 C1075.7,175.2 1076.3,173.3 1077.0,171.0 C1077.7,168.7 1078.5,166.2 1079.3,163.0 C1080.1,159.8 1080.8,157.4 1082.0,152.1 C1083.2,146.8 1085.1,138.8 1086.6,131.1 C1088.1,123.3 1089.9,112.3 1091.1,105.6 C1092.3,98.9 1093.0,95.5 1094.0,91.0 C1095.0,86.5 1096.1,81.9 1097.1,78.5 C1098.1,75.1 1099.0,72.8 1100.0,70.5 C1101.0,68.2 1102.1,66.3 1103.1,65.0 C1104.1,63.7 1105.0,63.1 1106.0,62.5 C1107.0,61.9 1108.1,61.4 1109.1,61.3 C1110.1,61.2 1111.1,61.9 1112.0,61.8 C1112.9,61.7 1113.5,60.8 1114.5,60.8 C1115.5,60.8 1117.1,61.5 1118.1,61.7 C1119.1,61.9 1119.8,61.8 1120.5,62.2 C1121.2,62.6 1121.8,64.0 1122.6,64.3 C1123.3,64.6 1124.2,64.1 1125.0,64.2 C1125.8,64.3 1126.3,65.2 1127.1,65.0 C1127.9,64.8 1129.0,63.9 1130.0,63.3 C1131.0,62.7 1132.1,61.4 1133.1,61.3 C1134.1,61.2 1135.1,62.0 1136.0,62.5 C1136.9,63.0 1137.7,63.8 1138.5,64.5 C1139.3,65.2 1140.2,66.2 1140.6,66.5" fill="none" stroke="#ea2a2e" stroke-width="1.5" stroke-linejoin="round" stroke-linecap="round"/>
<path d="M941.9,201.2 C948.2,201.2 968.6,201.1 980.0,201.0 C991.4,200.9 1002.5,200.7 1010.0,200.4 C1017.5,200.1 1021.5,199.6 1025.0,199.2 C1028.5,198.8 1029.1,198.8 1031.0,198.1 C1032.9,197.4 1034.5,196.5 1036.3,195.1 C1038.1,193.7 1040.0,191.4 1041.6,189.8 C1043.2,188.2 1044.5,186.7 1046.1,185.3 C1047.7,183.9 1049.5,182.7 1051.3,181.6 C1053.0,180.5 1055.2,179.3 1056.6,178.9 C1058.0,178.5 1058.6,179.1 1059.6,179.3 C1060.6,179.5 1061.6,180.0 1062.6,180.1 C1063.6,180.2 1064.3,180.1 1065.6,179.7 C1066.8,179.3 1068.7,178.4 1070.1,177.8 C1071.5,177.2 1072.7,176.5 1073.9,175.9 C1075.2,175.3 1076.3,174.6 1077.6,174.0 C1078.8,173.4 1080.2,172.6 1081.4,172.2 C1082.7,171.8 1083.8,171.3 1085.1,171.4 C1086.3,171.5 1087.7,171.9 1088.9,172.5 C1090.2,173.1 1091.0,174.1 1092.6,175.2 C1094.2,176.3 1096.6,177.4 1098.7,179.0 C1100.8,180.6 1103.0,182.8 1105.4,184.6 C1107.8,186.4 1110.7,188.3 1113.3,189.7 C1115.9,191.1 1117.9,192.1 1121.1,193.0 C1124.3,193.9 1129.1,194.6 1132.4,195.3 C1135.7,196.0 1139.4,196.7 1140.8,197.0" fill="none" stroke="#f8a22c" stroke-width="1.5" stroke-linejoin="round" stroke-linecap="round"/>
<path d="M941.9,201.2 C948.2,201.1 970.3,201.1 980.0,200.8 C989.7,200.5 995.0,200.2 1000.0,199.6 C1005.0,199.0 1007.1,197.6 1010.0,197.0 C1012.9,196.4 1015.0,196.2 1017.5,195.8 C1020.0,195.4 1023.2,195.2 1025.0,194.7 C1026.8,194.2 1027.0,193.7 1028.0,192.8 C1029.0,191.9 1030.0,190.7 1031.0,189.1 C1032.0,187.5 1033.1,185.2 1034.0,183.1 C1034.9,181.0 1035.5,179.3 1036.3,176.3 C1037.0,173.3 1037.8,169.2 1038.5,165.0 C1039.2,160.8 1039.5,157.7 1040.2,151.0 C1041.0,144.3 1042.0,132.2 1043.0,125.0 C1044.0,117.8 1045.1,110.9 1046.0,107.5 C1046.9,104.1 1047.6,105.2 1048.5,104.6 C1049.4,104.0 1050.2,103.4 1051.3,104.1 C1052.4,104.8 1053.6,105.1 1055.0,108.6 C1056.4,112.1 1058.0,118.5 1059.5,125.1 C1061.0,131.7 1062.6,141.3 1064.1,148.0 C1065.6,154.7 1067.2,160.9 1068.6,165.0 C1070.0,169.1 1071.2,170.2 1072.4,172.5 C1073.7,174.8 1074.6,176.9 1076.1,178.5 C1077.6,180.1 1079.3,181.1 1081.4,182.3 C1083.5,183.5 1086.0,184.6 1088.9,185.5 C1091.8,186.4 1095.2,187.0 1098.7,188.0 C1102.2,189.0 1106.2,190.4 1109.9,191.3 C1113.6,192.2 1117.3,192.9 1121.1,193.6 C1124.8,194.3 1129.1,194.8 1132.4,195.3 C1135.7,195.8 1139.4,196.2 1140.8,196.4" fill="none" stroke="#2d8a3e" stroke-width="1.5" stroke-linejoin="round" stroke-linecap="round"/>
<path d="M941.9,201.1 C948.2,201.0 970.3,200.8 980.0,200.6 C989.7,200.3 996.2,200.0 1000.0,199.6 C1003.8,199.2 1002.2,198.8 1003.0,198.2 C1003.8,197.6 1004.3,196.2 1005.0,196.0 C1005.7,195.8 1006.4,197.1 1007.0,197.0 C1007.6,196.9 1008.0,195.4 1008.5,195.2 C1009.0,194.9 1009.4,195.5 1010.0,195.5 C1010.6,195.5 1011.7,195.4 1012.3,195.1 C1012.9,194.8 1012.9,193.7 1013.4,193.6 C1013.9,193.5 1014.6,194.6 1015.3,194.7 C1016.0,194.8 1016.5,194.6 1017.5,194.3 C1018.5,194.0 1019.8,193.6 1021.3,192.8 C1022.8,192.1 1025.1,190.9 1026.5,189.8 C1027.9,188.7 1028.5,187.5 1029.5,186.1 C1030.5,184.7 1031.6,183.1 1032.5,181.6 C1033.4,180.1 1034.0,179.1 1034.8,177.0 C1035.5,174.9 1036.2,172.1 1037.0,168.8 C1037.8,165.6 1038.7,161.0 1039.3,157.5 C1039.9,154.0 1039.9,152.4 1040.5,148.0 C1041.1,143.6 1042.1,135.6 1043.0,131.1 C1043.9,126.6 1045.2,122.6 1046.0,120.8 C1046.8,119.0 1047.0,120.0 1047.5,120.0 C1048.0,120.0 1048.5,121.1 1049.0,121.0 C1049.5,120.9 1050.0,119.6 1050.5,119.6 C1051.0,119.6 1051.5,120.4 1052.0,120.8 C1052.5,121.2 1052.5,119.4 1053.5,122.1 C1054.5,124.8 1056.5,131.3 1058.0,137.1 C1059.5,142.9 1061.1,151.5 1062.5,157.0 C1063.9,162.5 1065.0,166.5 1066.3,170.3 C1067.6,174.1 1068.8,177.2 1070.1,180.0 C1071.4,182.8 1072.7,184.9 1073.9,186.8 C1075.2,188.7 1076.3,190.2 1077.6,191.3 C1078.8,192.4 1080.2,193.0 1081.4,193.6 C1082.7,194.2 1083.2,194.5 1085.1,195.1 C1087.0,195.7 1090.1,196.7 1092.6,197.3 C1095.1,197.9 1095.4,198.1 1100.0,198.5 C1104.6,198.9 1113.2,199.4 1120.0,199.7 C1126.8,200.0 1137.3,200.2 1140.8,200.3" fill="none" stroke="#232c84" stroke-width="1.5" stroke-linejoin="round" stroke-linecap="round"/>
<path d="M941.9,201.3 C948.2,201.2 968.6,201.2 980.0,201.0 C991.4,200.8 1002.5,200.4 1010.0,200.2 C1017.5,200.0 1021.2,200.2 1025.0,200.0 C1028.8,199.8 1030.2,199.4 1032.5,198.8 C1034.8,198.2 1036.9,197.7 1038.5,196.6 C1040.1,195.5 1041.2,194.0 1042.3,192.1 C1043.4,190.2 1044.4,187.3 1045.3,185.3 C1046.2,183.3 1046.8,181.7 1047.6,180.1 C1048.3,178.5 1049.0,176.8 1049.8,175.5 C1050.5,174.2 1051.2,173.1 1052.1,172.5 C1053.0,171.9 1054.2,172.1 1055.1,172.2 C1056.0,172.3 1056.3,172.1 1057.3,172.9 C1058.3,173.7 1060.0,175.6 1061.1,177.0 C1062.2,178.4 1063.1,180.3 1064.1,181.6 C1065.1,182.9 1066.1,183.7 1067.1,184.6 C1068.1,185.5 1069.0,185.9 1070.1,186.8 C1071.2,187.7 1072.7,189.0 1073.9,189.8 C1075.2,190.6 1076.3,191.0 1077.6,191.5 C1078.8,192.0 1079.8,192.2 1081.4,192.8 C1083.0,193.4 1085.5,194.6 1087.4,195.3 C1089.3,196.0 1090.7,196.5 1092.6,197.0 C1094.5,197.5 1095.8,197.6 1098.7,198.1 C1101.6,198.6 1106.2,199.4 1109.9,199.8 C1113.6,200.2 1115.9,200.2 1121.1,200.3 C1126.2,200.4 1137.5,200.6 1140.8,200.6" fill="none" stroke="#b24cb8" stroke-width="1.5" stroke-linejoin="round" stroke-linecap="round"/>
<path d="M941.9,201.0 C944.5,200.8 952.8,200.7 957.5,200.0 C962.2,199.3 965.8,198.2 970.0,196.9 C974.2,195.6 978.8,193.6 982.5,191.9 C986.2,190.2 989.6,188.7 992.5,186.9 C995.4,185.1 998.2,182.9 1000.0,181.3 C1001.8,179.7 1002.5,179.2 1003.1,177.5 C1003.7,175.8 1003.4,173.3 1003.8,171.3 C1004.1,169.3 1004.5,165.8 1005.0,165.6 C1005.5,165.4 1005.9,170.1 1006.5,170.0 C1007.1,169.9 1008.2,164.8 1008.8,165.0 C1009.3,165.2 1009.6,169.8 1010.0,171.0 C1010.4,172.2 1010.6,173.4 1011.1,172.3 C1011.6,171.2 1012.4,164.4 1013.0,164.3 C1013.6,164.2 1013.8,170.4 1014.5,171.8 C1015.2,173.2 1016.4,172.2 1017.5,172.5 C1018.6,172.8 1020.0,173.7 1021.3,173.7 C1022.5,173.7 1023.9,173.0 1025.0,172.5 C1026.1,172.0 1027.4,171.9 1028.0,170.7 C1028.6,169.4 1028.4,166.4 1028.8,165.0 C1029.2,163.6 1029.7,163.1 1030.3,162.0 C1030.9,160.9 1031.9,159.8 1032.5,158.3 C1033.1,156.8 1033.5,155.6 1034.0,153.0 C1034.5,150.4 1034.9,147.3 1035.5,143.0 C1036.1,138.7 1036.8,132.8 1037.5,127.0 C1038.2,121.2 1039.2,114.7 1040.0,108.0 C1040.8,101.3 1041.7,92.5 1042.5,87.0 C1043.3,81.5 1044.0,78.7 1044.8,75.0 C1045.6,71.3 1046.5,67.4 1047.5,65.0 C1048.5,62.6 1049.5,61.0 1050.5,60.8 C1051.5,60.5 1052.5,61.5 1053.5,63.5 C1054.5,65.5 1055.5,68.0 1056.5,72.5 C1057.5,77.0 1058.2,83.1 1059.5,90.6 C1060.8,98.1 1062.6,109.3 1064.0,117.6 C1065.4,125.8 1066.5,134.8 1067.8,140.1 C1069.0,145.4 1070.1,146.6 1071.5,149.5 C1072.9,152.4 1074.8,155.9 1076.1,157.5 C1077.4,159.1 1077.8,158.2 1079.1,159.0 C1080.3,159.8 1082.3,161.0 1083.6,162.0 C1084.8,163.0 1085.1,163.4 1086.6,165.0 C1088.1,166.6 1090.6,169.9 1092.6,171.8 C1094.6,173.8 1096.6,174.9 1098.7,176.7 C1100.8,178.5 1103.0,180.5 1105.4,182.4 C1107.8,184.3 1110.7,186.4 1113.3,188.0 C1115.9,189.6 1117.9,190.8 1121.1,191.9 C1124.3,193.0 1129.1,193.9 1132.4,194.7 C1135.7,195.4 1139.4,196.1 1140.8,196.4" fill="none" stroke="#3c4fae" stroke-width="1.6" stroke-linejoin="round" stroke-linecap="round"/>
<path d="M179,219.1 L252.8,215.8 L275.3,215.4 L275.3,225.5 L265.5,225.8 C262,228 258.6,231 258.4,236 L258.4,251.7 L258,275.5 C257.5,285 262,295 270.8,299.5 L271.2,308.9 L249.8,310.5 L240,312.3 L200,320 C192,321.6 186,321.5 182.8,320.5 C175,316 170,305 167.8,290.5 C165,277 162.5,262 162.5,249.5 C163,236 169,223 179,219.1 Z" fill="#dadada" stroke="#a4a4a4" stroke-width="0.9"/><path d="M178,221 C175,223 174.3,226 174.1,229 L174.1,237" fill="none" stroke="#b0b0b0" stroke-width="0.8"/><path d="M173,237.5 C169,239 166.5,243 166.2,246.5 C165.5,262 167,285 170,296 C172,303 174,307 175.3,310" fill="none" stroke="#b4b4b4" stroke-width="0.8"/><path d="M184,228 L251.3,227.3 L249.8,301.2 L184.3,306.3 L175.3,306.3 L174.1,237 L184,237 Z" fill="#d8d8d8" stroke="#8e8e8e" stroke-width="0.9"/><path d="M184.5,231.9 L251,231" stroke="#9a9a9a" stroke-width="0.8"/><path d="M184.5,230 L251,229.2" stroke="#ececec" stroke-width="1.2"/><path d="M184.3,306.3 L184.3,313.8 M184.5,309.3 L249.8,304.5 M184.5,313.8 L249.8,308.5" stroke="#999" stroke-width="0.8" fill="none"/><path d="M184.5,311.5 L249.8,306.5" stroke="#e8e8e8" stroke-width="1.4"/><path d="M240,224.4 L252.8,224.4 L252.8,216.5 M265.5,216 L265.5,225.5 M270,216 L270,225.5" fill="none" stroke="#a0a0a0" stroke-width="0.8"/><path d="M262.1,299.8 L262.1,308.9 M266.3,299.8 L266.3,308.9 M250,299.8 L262,299.8" fill="none" stroke="#9a9a9a" stroke-width="0.8"/><rect x="257.6" y="251.7" width="16.1" height="24.2" fill="#dcdcdc" stroke="#a8a8a8" stroke-width="0.7"/><rect x="261.1" y="257.3" width="12.6" height="14.4" fill="#c4c4c4"/><path d="M262.0,257.5 Q263.6,264.5 262.0,271.5" fill="none" stroke="#7a7a7a" stroke-width="0.7"/><path d="M264.1,257.5 Q265.7,264.5 264.1,271.5" fill="none" stroke="#7a7a7a" stroke-width="0.7"/><path d="M266.1,257.5 Q267.7,264.5 266.1,271.5" fill="none" stroke="#7a7a7a" stroke-width="0.7"/><path d="M268.1,257.5 Q269.8,264.5 268.1,271.5" fill="none" stroke="#7a7a7a" stroke-width="0.7"/><path d="M270.2,257.5 Q271.8,264.5 270.2,271.5" fill="none" stroke="#7a7a7a" stroke-width="0.7"/><path d="M272.2,257.5 Q273.9,264.5 272.2,271.5" fill="none" stroke="#7a7a7a" stroke-width="0.7"/><rect x="257.6" y="257.8" width="2" height="1.8" fill="#333"/><rect x="257.6" y="269.8" width="2" height="1.8" fill="#333"/><path d="M277.2,251.3 L289.5,251.3 C295.2,251.8 295.2,273.3 289.5,273.8 L277.2,273.8 Z" fill="#e2e2e2" stroke="#aaa" stroke-width="0.7"/><line x1="278" y1="261.9" x2="293.5" y2="261.9" stroke="#bdbdbd" stroke-width="1.5"/><path d="M274.5,253.3 C279.5,253.5 280.8,259 280.8,263 C280.8,267 279.5,272.5 274.5,272.8" fill="none" stroke="#1e1e1e" stroke-width="1.8"/><path d="M273.6,255.5 C276.8,256 277.6,259.5 277.6,263 C277.6,266.5 276.8,270 273.6,270.5" fill="none" stroke="#666" stroke-width="1"/><path d="M207.5,267.3 L259.7,263.6 L259.7,268 L207.5,272.3 C205.8,272 205.8,267.6 207.5,267.3 Z" fill="#e6e6e6" stroke="#6a6a6a" stroke-width="0.7"/><line x1="208" y1="269.2" x2="259" y2="265.4" stroke="#fbfbfb" stroke-width="0.9"/><line x1="208" y1="272" x2="259" y2="267.9" stroke="#555" stroke-width="0.6"/>
<polygon points="186.0,462.0 196.8,459.8 186.5,477.7" fill="#8e8e8e" opacity="0.35"/><line x1="196.8" y1="459.8" x2="186.5" y2="477.7" stroke="#8e8e8e" stroke-width="3.0"/><polygon points="216.0,456.0 205.2,458.2 216.5,471.1" fill="#8e8e8e" opacity="0.35"/><line x1="205.2" y1="458.2" x2="216.5" y2="471.1" stroke="#8e8e8e" stroke-width="3.0"/><polygon points="218.0,512.0 207.2,514.9 217.5,496.9" fill="#8e8e8e" opacity="0.35"/><line x1="207.2" y1="514.9" x2="217.5" y2="496.9" stroke="#8e8e8e" stroke-width="3.0"/><polygon points="188.0,520.0 198.8,517.1 187.5,504.3" fill="#8e8e8e" opacity="0.35"/><line x1="198.8" y1="517.1" x2="187.5" y2="504.3" stroke="#8e8e8e" stroke-width="3.0"/><line x1="186" y1="462" x2="216" y2="456" stroke="#7e7e7e" stroke-width="3.0" stroke-linecap="square"/><line x1="188" y1="520" x2="218" y2="512" stroke="#7e7e7e" stroke-width="3.0" stroke-linecap="square"/><line x1="186" y1="462" x2="188" y2="520" stroke="#6e6e6e" stroke-width="3.2" stroke-linecap="square"/><line x1="216" y1="456" x2="218" y2="512" stroke="#6e6e6e" stroke-width="3.2" stroke-linecap="square"/><polygon points="230.0,452.0 249.4,447.7 230.3,466.0" fill="#8e8e8e" opacity="0.35"/><line x1="249.4" y1="447.7" x2="230.3" y2="466.0" stroke="#8e8e8e" stroke-width="3.0"/><polygon points="284.0,440.0 264.6,444.3 283.7,454.0" fill="#8e8e8e" opacity="0.35"/><line x1="264.6" y1="444.3" x2="283.7" y2="454.0" stroke="#8e8e8e" stroke-width="3.0"/><polygon points="283.0,492.0 264.3,496.3 283.3,478.0" fill="#8e8e8e" opacity="0.35"/><line x1="264.3" y1="496.3" x2="283.3" y2="478.0" stroke="#8e8e8e" stroke-width="3.0"/><polygon points="231.0,504.0 249.7,499.7 230.7,490.0" fill="#8e8e8e" opacity="0.35"/><line x1="249.7" y1="499.7" x2="230.7" y2="490.0" stroke="#8e8e8e" stroke-width="3.0"/><line x1="230" y1="452" x2="284" y2="440" stroke="#7e7e7e" stroke-width="3.0" stroke-linecap="square"/><line x1="231" y1="504" x2="283" y2="492" stroke="#7e7e7e" stroke-width="3.0" stroke-linecap="square"/><line x1="230" y1="452" x2="231" y2="504" stroke="#6e6e6e" stroke-width="3.2" stroke-linecap="square"/><line x1="284" y1="440" x2="283" y2="492" stroke="#6e6e6e" stroke-width="3.2" stroke-linecap="square"/><line x1="188" y1="520" x2="219" y2="532" stroke="#8a8a8a" stroke-width="2" stroke-linecap="square"/><line x1="231" y1="504" x2="256.6" y2="515.5" stroke="#8a8a8a" stroke-width="2" stroke-linecap="square"/><line x1="283" y1="492" x2="292" y2="504.5" stroke="#8a8a8a" stroke-width="2" stroke-linecap="square"/><line x1="240" y1="482" x2="262" y2="492" stroke="#888" stroke-width="2.4" stroke-linecap="square"/><line x1="245" y1="500" x2="268" y2="488" stroke="#8a8a8a" stroke-width="2.4" stroke-linecap="square"/><polygon points="216.7,471.6 230.8,468.3 217.3,487.9" fill="#7c7c7c" opacity="0.35"/><line x1="230.8" y1="468.3" x2="217.3" y2="487.9" stroke="#7c7c7c" stroke-width="5.0"/><polygon points="256.0,462.3 241.9,465.6 256.2,476.7" fill="#7c7c7c" opacity="0.35"/><line x1="241.9" y1="465.6" x2="256.2" y2="476.7" stroke="#7c7c7c" stroke-width="5.0"/><polygon points="256.6,515.5 243.1,521.4 256.4,501.1" fill="#7c7c7c" opacity="0.35"/><line x1="243.1" y1="521.4" x2="256.4" y2="501.1" stroke="#7c7c7c" stroke-width="5.0"/><polygon points="219.1,531.9 232.6,526.0 218.5,515.6" fill="#7c7c7c" opacity="0.35"/><line x1="232.6" y1="526.0" x2="218.5" y2="515.6" stroke="#7c7c7c" stroke-width="5.0"/><line x1="216.7" y1="471.6" x2="256" y2="462.3" stroke="#6a6a6a" stroke-width="4.4" stroke-linecap="square"/><line x1="216.7" y1="471.6" x2="256" y2="462.3" stroke="#8e8e8e" stroke-width="1.54" stroke-linecap="butt"/><line x1="219.1" y1="531.9" x2="256.6" y2="515.5" stroke="#6a6a6a" stroke-width="4.4" stroke-linecap="square"/><line x1="219.1" y1="531.9" x2="256.6" y2="515.5" stroke="#8e8e8e" stroke-width="1.54" stroke-linecap="butt"/><line x1="216.7" y1="471.6" x2="219.1" y2="531.9" stroke="#4e4e4e" stroke-width="4.8" stroke-linecap="square"/><line x1="216.7" y1="471.6" x2="219.1" y2="531.9" stroke="#8e8e8e" stroke-width="1.68" stroke-linecap="butt"/><line x1="256" y1="462.3" x2="256.6" y2="515.5" stroke="#4e4e4e" stroke-width="4.8" stroke-linecap="square"/><line x1="256" y1="462.3" x2="256.6" y2="515.5" stroke="#8e8e8e" stroke-width="1.68" stroke-linecap="butt"/><polygon points="256.0,462.3 269.2,458.6 256.2,476.7" fill="#7c7c7c" opacity="0.35"/><line x1="269.2" y1="458.6" x2="256.2" y2="476.7" stroke="#7c7c7c" stroke-width="5.0"/><polygon points="292.6,452.1 279.4,455.8 292.4,466.2" fill="#7c7c7c" opacity="0.35"/><line x1="279.4" y1="455.8" x2="292.4" y2="466.2" stroke="#7c7c7c" stroke-width="5.0"/><polygon points="292.0,504.5 279.3,508.5 292.2,490.4" fill="#7c7c7c" opacity="0.35"/><line x1="279.3" y1="508.5" x2="292.2" y2="490.4" stroke="#7c7c7c" stroke-width="5.0"/><polygon points="256.6,515.5 269.3,511.5 256.4,501.1" fill="#7c7c7c" opacity="0.35"/><line x1="269.3" y1="511.5" x2="256.4" y2="501.1" stroke="#7c7c7c" stroke-width="5.0"/><line x1="256" y1="462.3" x2="292.6" y2="452.1" stroke="#6a6a6a" stroke-width="4.4" stroke-linecap="square"/><line x1="256" y1="462.3" x2="292.6" y2="452.1" stroke="#8e8e8e" stroke-width="1.54" stroke-linecap="butt"/><line x1="256.6" y1="515.5" x2="292" y2="504.5" stroke="#6a6a6a" stroke-width="4.4" stroke-linecap="square"/><line x1="256.6" y1="515.5" x2="292" y2="504.5" stroke="#8e8e8e" stroke-width="1.54" stroke-linecap="butt"/><line x1="256" y1="462.3" x2="256.6" y2="515.5" stroke="#4e4e4e" stroke-width="4.8" stroke-linecap="square"/><line x1="256" y1="462.3" x2="256.6" y2="515.5" stroke="#8e8e8e" stroke-width="1.68" stroke-linecap="butt"/><line x1="292.6" y1="452.1" x2="292" y2="504.5" stroke="#4e4e4e" stroke-width="4.8" stroke-linecap="square"/><line x1="292.6" y1="452.1" x2="292" y2="504.5" stroke="#8e8e8e" stroke-width="1.68" stroke-linecap="butt"/><polygon points="143.6,471 172,487.5 213.5,477.4 186,462" fill="none" stroke="#777" stroke-width="2.4"/><line x1="155" y1="468" x2="193" y2="481" stroke="#8a8a8a" stroke-width="2.2" stroke-linecap="square"/><line x1="165" y1="465" x2="203" y2="478" stroke="#8a8a8a" stroke-width="2.2" stroke-linecap="square"/><polygon points="143.6,471.0 153.8,476.9 144.8,487.5" fill="#7c7c7c" opacity="0.35"/><line x1="153.8" y1="476.9" x2="144.8" y2="487.5" stroke="#7c7c7c" stroke-width="5.0"/><polygon points="172.0,487.5 161.8,481.6 173.1,504.2" fill="#7c7c7c" opacity="0.35"/><line x1="161.8" y1="481.6" x2="173.1" y2="504.2" stroke="#7c7c7c" stroke-width="5.0"/><polygon points="176.0,549.4 165.9,543.1 174.9,532.7" fill="#7c7c7c" opacity="0.35"/><line x1="165.9" y1="543.1" x2="174.9" y2="532.7" stroke="#7c7c7c" stroke-width="5.0"/><polygon points="148.0,532.0 158.1,538.3 146.8,515.5" fill="#7c7c7c" opacity="0.35"/><line x1="158.1" y1="538.3" x2="146.8" y2="515.5" stroke="#7c7c7c" stroke-width="5.0"/><line x1="143.6" y1="471" x2="172" y2="487.5" stroke="#6a6a6a" stroke-width="4.4" stroke-linecap="square"/><line x1="143.6" y1="471" x2="172" y2="487.5" stroke="#8e8e8e" stroke-width="1.54" stroke-linecap="butt"/><line x1="148" y1="532" x2="176" y2="549.4" stroke="#6a6a6a" stroke-width="4.4" stroke-linecap="square"/><line x1="148" y1="532" x2="176" y2="549.4" stroke="#8e8e8e" stroke-width="1.54" stroke-linecap="butt"/><line x1="143.6" y1="471" x2="148" y2="532" stroke="#4e4e4e" stroke-width="4.8" stroke-linecap="square"/><line x1="143.6" y1="471" x2="148" y2="532" stroke="#8e8e8e" stroke-width="1.68" stroke-linecap="butt"/><line x1="172" y1="487.5" x2="176" y2="549.4" stroke="#4e4e4e" stroke-width="4.8" stroke-linecap="square"/><line x1="172" y1="487.5" x2="176" y2="549.4" stroke="#8e8e8e" stroke-width="1.68" stroke-linecap="butt"/><polygon points="172.0,487.5 186.9,483.9 173.1,504.2" fill="#7c7c7c" opacity="0.35"/><line x1="186.9" y1="483.9" x2="173.1" y2="504.2" stroke="#7c7c7c" stroke-width="5.0"/><polygon points="213.5,477.4 198.6,481.0 213.9,492.6" fill="#7c7c7c" opacity="0.35"/><line x1="198.6" y1="481.0" x2="213.9" y2="492.6" stroke="#7c7c7c" stroke-width="5.0"/><polygon points="215.0,533.6 201.0,539.3 214.6,518.4" fill="#7c7c7c" opacity="0.35"/><line x1="201.0" y1="539.3" x2="214.6" y2="518.4" stroke="#7c7c7c" stroke-width="5.0"/><polygon points="176.0,549.4 190.0,543.7 174.9,532.7" fill="#7c7c7c" opacity="0.35"/><line x1="190.0" y1="543.7" x2="174.9" y2="532.7" stroke="#7c7c7c" stroke-width="5.0"/><line x1="172" y1="487.5" x2="213.5" y2="477.4" stroke="#6a6a6a" stroke-width="4.4" stroke-linecap="square"/><line x1="172" y1="487.5" x2="213.5" y2="477.4" stroke="#8e8e8e" stroke-width="1.54" stroke-linecap="butt"/><line x1="176" y1="549.4" x2="215" y2="533.6" stroke="#6a6a6a" stroke-width="4.4" stroke-linecap="square"/><line x1="176" y1="549.4" x2="215" y2="533.6" stroke="#8e8e8e" stroke-width="1.54" stroke-linecap="butt"/><line x1="172" y1="487.5" x2="176" y2="549.4" stroke="#484848" stroke-width="5.2" stroke-linecap="square"/><line x1="172" y1="487.5" x2="176" y2="549.4" stroke="#8e8e8e" stroke-width="1.82" stroke-linecap="butt"/><line x1="213.5" y1="477.4" x2="215" y2="533.6" stroke="#484848" stroke-width="5.2" stroke-linecap="square"/><line x1="213.5" y1="477.4" x2="215" y2="533.6" stroke="#8e8e8e" stroke-width="1.82" stroke-linecap="butt"/><rect x="146.8" y="533" width="2.4" height="2.5" fill="#333"/><rect x="174.8" y="550.5" width="2.4" height="2.5" fill="#333"/><rect x="213.8" y="535" width="2.4" height="2.5" fill="#333"/><rect x="255.40000000000003" y="517" width="2.4" height="2.5" fill="#333"/><rect x="290.8" y="506" width="2.4" height="2.5" fill="#333"/><path d="M256.3,442.5 L283.8,440 L286,452 L258,455 Z" fill="#9a9a9a" stroke="#555" stroke-width="1"/><path d="M259,447 L284,444.5" stroke="#444" stroke-width="1.4"/><line x1="270.6" y1="421" x2="270.6" y2="450" stroke="#6a6a6a" stroke-width="1.8" stroke-linecap="square"/><line x1="278.1" y1="421" x2="278.1" y2="449" stroke="#6a6a6a" stroke-width="1.8" stroke-linecap="square"/><path d="M246.3,410 L280,409 C283.5,409 283.5,424 280,424 L246.3,425 Z" fill="#808080"/><path d="M247,412.5 L280,411.5" stroke="#b4b4b4" stroke-width="2"/><path d="M247,422.5 L280,421.5" stroke="#555" stroke-width="1.6"/><line x1="256" y1="409.5" x2="256" y2="424.5" stroke="#5a5a5a" stroke-width="1"/><line x1="263" y1="409.5" x2="263" y2="424.5" stroke="#5a5a5a" stroke-width="1"/><line x1="270" y1="409.5" x2="270" y2="424.5" stroke="#5a5a5a" stroke-width="1"/><ellipse cx="280.5" cy="416.5" rx="2.8" ry="7.6" fill="#8c8c8c" stroke="#555" stroke-width="1"/><rect x="266.9" y="403.8" width="10.6" height="3.6" rx="1" fill="#1e1e1e"/><rect x="221.3" y="390.6" width="24.3" height="11.9" fill="#d6d6d6" stroke="#bdbdbd" stroke-width="0.6"/><rect x="215.5" y="402.5" width="5" height="9" fill="#8a8a8a"/><rect x="247.5" y="402.5" width="5" height="9" fill="#8a8a8a"/><rect x="230" y="403" width="9" height="6" fill="#3a3a3a"/><rect x="193.8" y="413" width="10.5" height="19.5" fill="#222"/><path d="M203,416 L226.3,414 L226.3,437.5 L204,440 Z" fill="#7a7a7a"/><path d="M204,421 L225,419.5" stroke="#a8a8a8" stroke-width="2.2"/><path d="M204,431 L225,429.5" stroke="#4e4e4e" stroke-width="1.6"/><rect x="226.3" y="414.5" width="20.5" height="22" fill="#6c6c6c"/><path d="M226.3,414.5 L246.8,414.5 L244,410 L229,410 Z" fill="#555"/><circle cx="238.5" cy="426.3" r="7.2" fill="#2c2c2c" stroke="#8a8a8a" stroke-width="1.6"/><circle cx="239.5" cy="426.8" r="4.2" fill="#3c3c3c"/><path d="M176,440.5 L212.5,437 L213,459.5 L177,463 Z" fill="#7c7c7c"/><path d="M178,445 L212,441.5" stroke="#a6a6a6" stroke-width="2.4"/><path d="M178,458 L212,455" stroke="#505050" stroke-width="1.6"/><ellipse cx="176.5" cy="451.8" rx="3.2" ry="11.2" fill="#6e6e6e" stroke="#3a3a3a" stroke-width="1.2"/><rect x="178.8" y="440" width="10" height="4.5" fill="#1e1e1e"/><line x1="183" y1="462" x2="183" y2="478" stroke="#666" stroke-width="1.6" stroke-linecap="square"/><line x1="198" y1="460" x2="198" y2="478" stroke="#666" stroke-width="1.6" stroke-linecap="square"/><path d="M212,437 L228,436 L228,472 L212,476 Z" fill="#4c4c4c"/><path d="M212,466 L230,464 L231,474 L213,478 Z" fill="#3a3a3a"/><path d="M227.5,438.8 L256.3,435 L256.3,467.5 L227.5,472.5 Z" fill="#676767" stroke="#3e3e3e" stroke-width="0.9"/><path d="M229,440.5 L254.5,437" stroke="#8e8e8e" stroke-width="1"/><path d="M254,451 L262,450" stroke="#333" stroke-width="2"/>
</svg>
<div class="cap"><b>Figure 1.</b> Probable sequence of events leading to spallation in TPS. Early water release from microballoons and pre-cracking (I), followed by pyrolysis<br>gas evolution (II), and pressure-induced spallation (III). The blue trace corresponds to water released in limited amounts during thermal desorption and<br>larger quantities during pyrolysis. The remaining curves represent various low and high molecular weight species generated during pyrolysis.</div>
</body></html>
